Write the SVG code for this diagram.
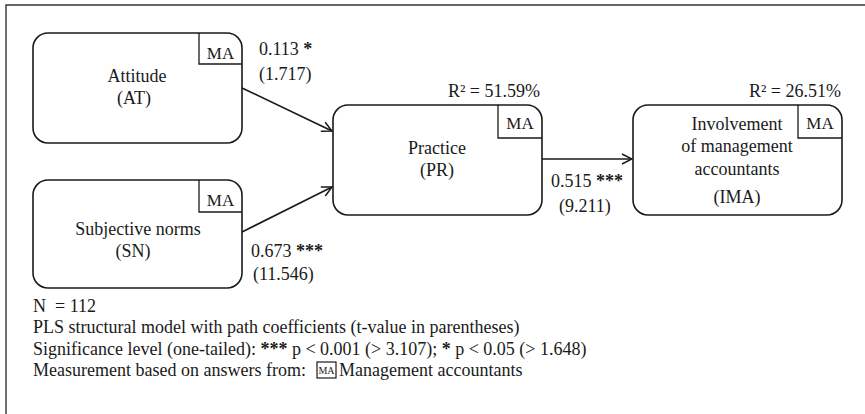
<svg xmlns="http://www.w3.org/2000/svg" width="865" height="414" viewBox="0 0 865 414">
<defs>
<style>
text{font-family:"Liberation Serif","Times New Roman",serif;font-size:18px;fill:#1a1a1a}
.c{text-anchor:middle}
.e{text-anchor:end}
.b{font-weight:bold}
.box{fill:#fff;stroke:#1a1a1a;stroke-width:1.6}
.tag{fill:none;stroke:#1a1a1a;stroke-width:1.3}
.edge{fill:none;stroke:#1a1a1a;stroke-width:1.6}
.ma{font-size:17px}
</style>
<marker id="arr" viewBox="0 0 12 12" refX="11" refY="6" markerWidth="12" markerHeight="12" markerUnits="userSpaceOnUse" orient="auto">
<path d="M1,1 L11,6 L1,11" fill="none" stroke="#1a1a1a" stroke-width="1.5"/>
</marker>
</defs>
<rect width="865" height="414" fill="#fff"/>
<path d="M6,414 V5 H865" fill="none" stroke="#333" stroke-width="1.4"/>

<g id="connectors">
<line class="edge" x1="242" y1="88" x2="332" y2="131" marker-end="url(#arr)"/>
<line class="edge" x1="242" y1="232" x2="332" y2="187" marker-end="url(#arr)"/>
<line class="edge" x1="542" y1="159" x2="632" y2="159" marker-end="url(#arr)"/>
<text x="259" y="55">0.113 <tspan class="b">*</tspan></text>
<text x="259" y="80">(1.717)</text>
<text x="251" y="257">0.673 <tspan class="b">***</tspan></text>
<text x="253" y="280">(11.546)</text>
<text x="551" y="187">0.515 <tspan class="b">***</tspan></text>
<text x="559" y="212">(9.211)</text>
</g>

<g id="AT">
<rect class="box" x="33" y="33" width="209" height="110" rx="15"/>
<path class="tag" d="M199,33 V64 H242"/>
<text class="c ma" x="220.5" y="59">MA</text>
<text class="c" x="137" y="82">Attitude</text>
<text class="c" x="134" y="104">(AT)</text>
</g>

<g id="SN">
<rect class="box" x="33" y="180" width="209" height="108" rx="15"/>
<path class="tag" d="M199,180 V212 H242"/>
<text class="c ma" x="220.5" y="206">MA</text>
<text class="c" x="138" y="235">Subjective norms</text>
<text class="c" x="133" y="257">(SN)</text>
</g>

<g id="PR">
<rect class="box" x="333" y="105" width="209" height="110" rx="15"/>
<path class="tag" d="M498,105 V138 H542"/>
<text class="c ma" x="520" y="129">MA</text>
<text class="c" x="437" y="154">Practice</text>
<text class="c" x="437" y="176">(PR)</text>
<text class="e" x="540" y="97">R² = 51.59%</text>
</g>

<g id="IMA">
<rect class="box" x="633" y="105" width="209" height="110" rx="15"/>
<path class="tag" d="M798,105 V138 H842"/>
<text class="c ma" x="820" y="129">MA</text>
<text class="c" x="737" y="130">Involvement</text>
<text class="c" x="737" y="152">of management</text>
<text class="c" x="737" y="175">accountants</text>
<text class="c" x="737" y="203">(IMA)</text>
<text class="e" x="841" y="97">R² = 26.51%</text>
</g>

<g id="legend">
<text x="33" y="312" xml:space="preserve">N  = 112</text>
<text x="33" y="333">PLS structural model with path coefficients (t-value in parentheses)</text>
<text x="33" y="355">Significance level (one-tailed): <tspan class="b">***</tspan> p &lt; 0.001 (&gt; 3.107); <tspan class="b">*</tspan> p &lt; 0.05 (&gt; 1.648)</text>
<text x="33" y="376">Measurement based on answers from:</text>
<rect x="317" y="362" width="19" height="16" fill="none" stroke="#1a1a1a" stroke-width="1.2"/>
<text x="326.5" y="374" class="c" style="font-size:10px">MA</text>
<text x="339" y="376">Management accountants</text>
</g>
</svg>
